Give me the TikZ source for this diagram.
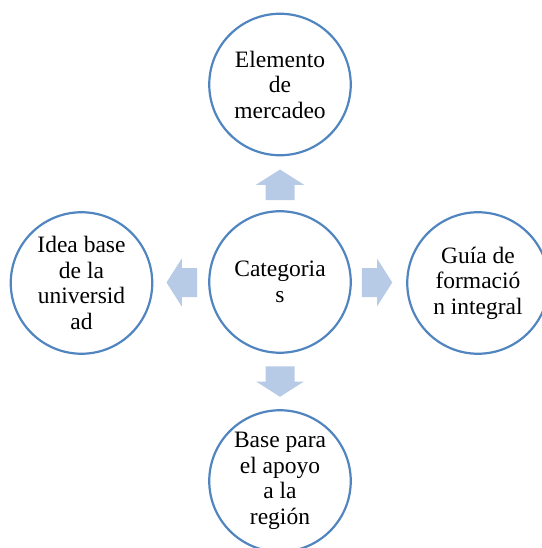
\documentclass[tikz,border=0pt]{standalone}
\usepackage{fontspec}
\setmainfont{Liberation Serif}
\usetikzlibrary{calc}
\definecolor{ringblue}{HTML}{5085C0}
\definecolor{arrowfill}{HTML}{B7CBE6}
\tikzset{
  ring/.style={circle, draw=ringblue, line width=2.2pt, fill=white,
    minimum size=141.5pt, inner sep=0pt, align=center,
    font=\fontsize{23.5pt}{25.5pt}\selectfont},
  blockarrow/.pic={\fill[arrowfill] (-15.25,-14.5) -- (0,-14.5) -- (0,-24) -- (15.25,0) -- (0,24) -- (0,14.5) -- (-15.25,14.5) -- cycle;}
}
\begin{document}
\begin{tikzpicture}[x=1pt,y=-1pt]
\useasboundingbox (0,0) rectangle (541,548);
\node[ring] (c) at (280,282) {Categoria\\s};
\node[ring] (t) at (280,84.5) {Elemento\\de\\mercadeo};
\node[ring] (l) at (81.5,283) {Idea base\\de la\\universid\\ad};
\node[ring] (r) at (478,283) {Guía de\\formació\\n integral};
\node[ring] (b) at (280,481) {Base para\\el apoyo\\a la\\región};
\pic[rotate=90] at ($(c.north)!0.5!(t.south)+(0,1.5)$) {blockarrow};
\pic[rotate=-90] at ($(c.south)!0.5!(b.north)$) {blockarrow};
\pic[rotate=180] at ($(c.west)!0.5!(l.east)+(1,0)$) {blockarrow};
\pic at ($(c.east)!0.5!(r.west)+(-2,0)$) {blockarrow};
\end{tikzpicture}
\end{document}
